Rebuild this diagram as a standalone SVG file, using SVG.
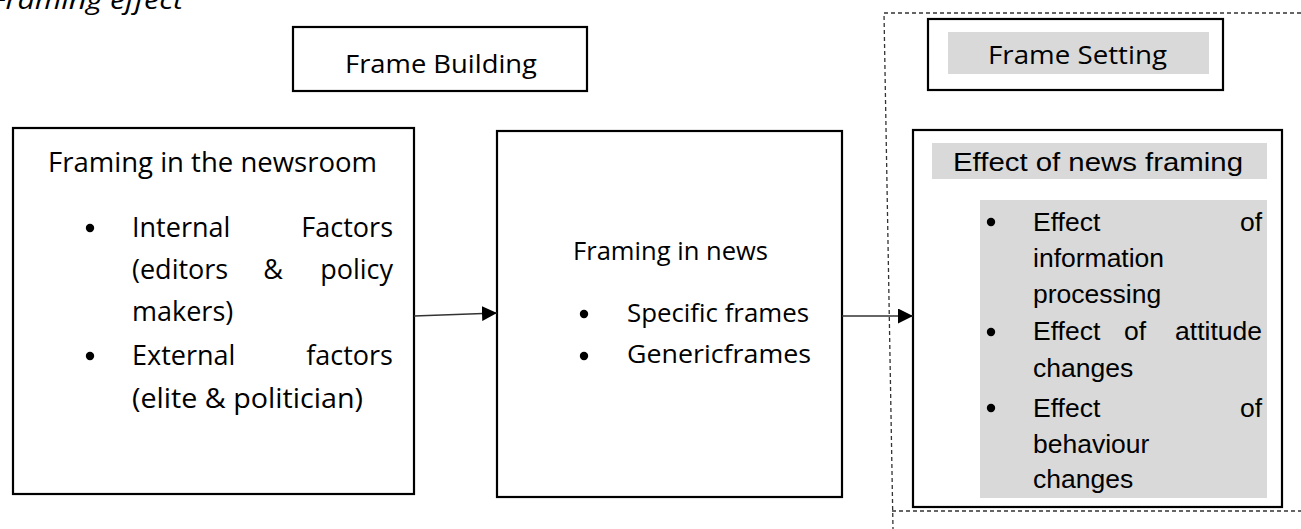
<svg xmlns="http://www.w3.org/2000/svg" width="1301" height="529" viewBox="0 0 1301 529">
<style>
.box{fill:#fff;stroke:#000;stroke-width:2.2}
.c{font-family:"Open Sans","Noto Sans",sans-serif;fill:#000}
.a{font-family:"Liberation Sans",Arial,sans-serif;fill:#000;font-size:26.5px}
.gray{fill:#d9d9d9;stroke:none}
.conn{stroke:#333;stroke-width:1.4;fill:none}
.dash{fill:none;stroke:#333;stroke-width:1.3;stroke-dasharray:4,3}
</style>
<defs>
<marker id="ah" markerWidth="15" markerHeight="15" refX="15" refY="7.5" orient="auto" markerUnits="userSpaceOnUse">
<path d="M0,0 L15,7.5 L0,15 Z" fill="#000"/>
</marker>
</defs>
<rect width="1301" height="529" fill="#fff"/>
<text class="c" x="183" y="9" font-size="26" font-style="italic" text-anchor="end" fill="#222" textLength="192" lengthAdjust="spacingAndGlyphs">Framing effect</text>
<g id="frame-setting-region">
<polyline class="dash" points="1301,13 884,13 893,529"/>
<line class="dash" x1="892" y1="511" x2="1301" y2="511"/>
</g>
<g id="frame-building">
<rect class="box" x="293" y="27" width="294" height="64"/>
<text class="c" x="345" y="73" font-size="26" textLength="192" lengthAdjust="spacingAndGlyphs">Frame Building</text>
</g>
<g id="frame-setting">
<rect class="box" x="928" y="19" width="295" height="71"/>
<rect class="gray" x="948" y="32" width="261" height="42"/>
<text class="c" x="988" y="64" font-size="26" textLength="179" lengthAdjust="spacingAndGlyphs">Frame Setting</text>
</g>
<g id="newsroom">
<rect class="box" x="13" y="128" width="401" height="366"/>
<text class="c" x="48" y="172" font-size="27" textLength="329" lengthAdjust="spacingAndGlyphs">Framing in the newsroom</text>
<circle cx="90" cy="228" r="4.2"/>
<circle cx="90" cy="356" r="4.2"/>
<g class="c" font-size="27">
<text x="132" y="237">Internal</text>
<text x="393" y="237" text-anchor="end">Factors</text>
<text x="132" y="279">(editors</text>
<text x="273" y="279" text-anchor="middle">&amp;</text>
<text x="393" y="279" text-anchor="end">policy</text>
<text x="132" y="321">makers)</text>
<text x="132" y="365">External</text>
<text x="393" y="365" text-anchor="end">factors</text>
<text x="132" y="408" textLength="231" lengthAdjust="spacingAndGlyphs">(elite &amp; politician)</text>
</g>
</g>
<g id="news">
<rect class="box" x="497" y="131" width="345" height="366"/>
<text class="c" x="573" y="260" font-size="25" textLength="195" lengthAdjust="spacingAndGlyphs">Framing in news</text>
<circle cx="584" cy="314" r="4.2"/>
<circle cx="584" cy="356" r="4.2"/>
<text class="c" x="627" y="322" font-size="25" textLength="182" lengthAdjust="spacingAndGlyphs">Specific frames</text>
<text class="c" x="627" y="363" font-size="25" textLength="184" lengthAdjust="spacingAndGlyphs">Genericframes</text>
</g>
<g id="effect">
<rect class="box" x="913" y="130" width="369" height="377"/>
<rect class="gray" x="932" y="143" width="335" height="36"/>
<text class="a" x="953" y="171" font-size="29" textLength="290" lengthAdjust="spacingAndGlyphs">Effect of news framing</text>
<rect class="gray" x="980" y="200" width="287" height="298"/>
<circle cx="991" cy="222" r="4.2"/>
<circle cx="991" cy="332" r="4.2"/>
<circle cx="991" cy="408" r="4.2"/>
<text class="a" x="1033" y="231">Effect</text>
<text class="a" x="1262" y="231" text-anchor="end">of</text>
<text class="a" x="1033" y="267">information</text>
<text class="a" x="1033" y="303">processing</text>
<text class="a" x="1033" y="340">Effect</text>
<text class="a" x="1124" y="340">of</text>
<text class="a" x="1262" y="340" text-anchor="end">attitude</text>
<text class="a" x="1033" y="377">changes</text>
<text class="a" x="1033" y="417">Effect</text>
<text class="a" x="1262" y="417" text-anchor="end">of</text>
<text class="a" x="1033" y="453">behaviour</text>
<text class="a" x="1033" y="488">changes</text>
</g>
<g id="connectors">
<line class="conn" x1="414" y1="316" x2="497" y2="313" marker-end="url(#ah)"/>
<line class="conn" x1="842" y1="316" x2="913" y2="316" marker-end="url(#ah)"/>
</g>
</svg>
